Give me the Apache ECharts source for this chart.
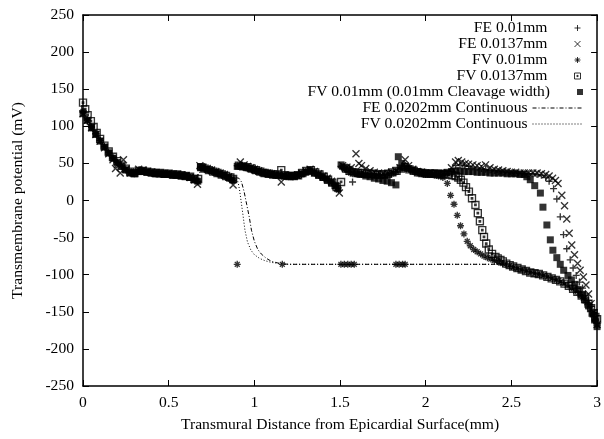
<!DOCTYPE html>
<html><head><meta charset="utf-8">
<script src="https://cdn.jsdelivr.net/npm/echarts@6/dist/echarts.min.js"></script>
<style>html,body{margin:0;padding:0;background:#fff}#c{width:604px;height:439px}</style>
</head><body><div id="c"></div>
<script>
// ---- data: [distance (mm), potential (mV)] ----
const seriesNames = ['FE 0.01mm', 'FE 0.0137mm', 'FV 0.01mm', 'FV 0.0137mm',
  'FV 0.01mm (0.01mm Cleavage width)', 'FE 0.0202mm Continuous', 'FV 0.0202mm Continuous'];

const fe01 = [[0,119],[0.025,109],[0.05,99],[0.075,90],[0.1,81],[0.125,72],[0.15,64],[0.175,57],[0.2,51],[0.225,46],[0.25,41],[0.275,37],[0.3,37],[0.325,41],[0.35,40],[0.375,38],[0.4,37],[0.425,37],[0.45,36],[0.475,36],[0.5,35],[0.525,35],[0.55,34],[0.575,34],[0.6,33],[0.625,31],[0.65,28],[0.67,25],[0.685,45],[0.7,44],[0.725,42],[0.75,40],[0.775,38],[0.8,36],[0.825,34],[0.85,31],[0.875,27],[0.9,47],[0.925,47],[0.95,45],[0.975,43],[1,41],[1.025,40],[1.05,38],[1.075,36],[1.1,35],[1.125,34],[1.15,34],[1.175,33],[1.2,33],[1.225,33],[1.25,34],[1.275,36],[1.3,39],[1.325,41],[1.35,38],[1.375,35],[1.4,32],[1.425,29],[1.45,26],[1.475,21],[1.49,17],[1.505,46],[1.525,43],[1.55,39],[1.573,25],[1.6,36],[1.625,36],[1.65,36],[1.675,35],[1.7,35],[1.725,35],[1.75,34],[1.775,35],[1.8,37],[1.825,39],[1.85,43],[1.875,46],[1.9,43],[1.925,40],[1.95,38],[1.975,37],[2,36],[2.025,36],[2.05,36],[2.075,35],[2.1,35],[2.125,36],[2.15,40],[2.175,47],[2.2,48],[2.225,47],[2.25,46],[2.275,45],[2.3,44],[2.325,43],[2.35,42],[2.375,41],[2.4,40],[2.425,39],[2.45,38],[2.475,38],[2.5,37],[2.525,37],[2.55,36],[2.575,36],[2.6,36],[2.625,36],[2.65,35],[2.675,34],[2.7,31],[2.72,26],[2.746,16],[2.765,2],[2.785,-22],[2.804,-46],[2.823,-65],[2.843,-80],[2.86,-91],[2.878,-101],[2.897,-110],[2.915,-118],[2.932,-126],[2.95,-135],[2.965,-143],[2.98,-153],[2.99,-160],[3,-166]];

const fe137 = [[0,117],[0.025,108],[0.05,98],[0.075,89],[0.1,80],[0.125,71],[0.15,63],[0.175,55],[0.19,43],[0.2,48],[0.217,37],[0.236,55],[0.25,42],[0.275,37],[0.3,38],[0.325,42],[0.35,41],[0.375,39],[0.4,38],[0.425,37],[0.45,36],[0.475,36],[0.5,36],[0.525,35],[0.55,35],[0.575,34],[0.6,33],[0.625,31],[0.65,28],[0.668,22],[0.682,47],[0.7,45],[0.725,43],[0.75,41],[0.775,39],[0.8,37],[0.825,35],[0.85,32],[0.876,21],[0.918,52],[0.94,48],[0.96,46],[0.98,44],[1,42],[1.025,40],[1.05,38],[1.075,37],[1.1,36],[1.125,35],[1.157,25],[1.175,34],[1.2,33],[1.225,33],[1.25,34],[1.275,37],[1.3,40],[1.325,42],[1.35,39],[1.375,36],[1.4,33],[1.425,30],[1.45,26],[1.475,20],[1.496,10],[1.515,47],[1.54,45],[1.565,44],[1.593,63],[1.61,50],[1.625,47],[1.65,43],[1.675,40],[1.7,38],[1.725,37],[1.75,36],[1.775,36],[1.8,38],[1.825,40],[1.85,44],[1.88,55],[1.9,47],[1.925,42],[1.95,39],[1.975,38],[2,37],[2.025,37],[2.05,36],[2.075,36],[2.1,36],[2.125,37],[2.15,44],[2.174,52],[2.19,54],[2.21,52],[2.23,50],[2.25,49],[2.275,48],[2.3,47],[2.325,46],[2.349,48],[2.375,44],[2.4,42],[2.425,41],[2.45,40],[2.475,39],[2.5,38],[2.525,38],[2.55,37],[2.575,37],[2.6,37],[2.625,37],[2.65,37],[2.675,36],[2.7,35],[2.72,33],[2.74,30],[2.757,27],[2.772,23],[2.794,7],[2.81,-7],[2.823,-25],[2.837,-44],[2.852,-60],[2.868,-73],[2.886,-85],[2.901,-94],[2.92,-103],[2.935,-114],[2.95,-126],[2.965,-139],[2.98,-151],[2.99,-159],[3,-167]];

const fv01 = [[0,120],[0.025,108],[0.05,99],[0.075,90],[0.1,81],[0.125,73],[0.15,65],[0.175,58],[0.2,52],[0.225,47],[0.25,42],[0.275,38],[0.3,36],[0.325,39],[0.35,39],[0.375,38],[0.4,37],[0.425,36],[0.45,36],[0.475,35],[0.5,35],[0.525,34],[0.55,34],[0.575,33],[0.6,33],[0.625,31],[0.65,28],[0.67,26],[0.685,44],[0.7,43],[0.725,41],[0.75,39],[0.775,37],[0.8,35],[0.825,33],[0.85,30],[0.875,27],[0.905,46],[0.925,46],[0.95,44],[0.975,43],[1,41],[1.025,39],[1.05,37],[1.075,36],[1.1,35],[1.125,34],[1.15,33],[1.175,33],[1.2,32],[1.225,32],[1.25,33],[1.275,35],[1.3,38],[1.325,40],[1.35,37],[1.375,34],[1.4,31],[1.425,28],[1.45,24],[1.475,19],[1.49,14],[1.51,45],[1.525,42],[1.55,38],[1.575,36],[1.6,35],[1.625,35],[1.65,35],[1.675,34],[1.7,34],[1.725,34],[1.75,33],[1.775,34],[1.8,36],[1.825,38],[1.85,42],[1.875,44],[1.9,42],[1.925,39],[1.95,37],[1.975,36],[2,35],[2.025,35],[2.05,34],[2.075,33],[2.1,31],[2.126,23],[2.145,7],[2.165,-5],[2.184,-20],[2.203,-34],[2.223,-45],[2.242,-55],[2.26,-61],[2.28,-66],[2.3,-69],[2.32,-72],[2.34,-75],[2.36,-77],[2.38,-79],[2.4,-81],[2.425,-83],[2.45,-85],[2.475,-87],[2.5,-89],[2.525,-91],[2.55,-93],[2.575,-94],[2.6,-96],[2.625,-97],[2.65,-99],[2.675,-100],[2.7,-102],[2.725,-104],[2.75,-106],[2.775,-108],[2.8,-111],[2.825,-114],[2.85,-118],[2.875,-122],[2.9,-127],[2.92,-132],[2.94,-138],[2.96,-146],[2.975,-153],[2.99,-162],[3,-168],
  [0.9,-86],[1.163,-86],[1.505,-86],[1.525,-86],[1.545,-86],[1.565,-86],[1.583,-86],[1.826,-86],[1.845,-86],[1.865,-86],[1.88,-86]];

const fv137 = [[0,132],[0.013,123],[0.027,115],[0.046,107],[0.062,99],[0.08,91],[0.1,83],[0.125,74],[0.15,66],[0.175,59],[0.2,53],[0.225,47],[0.25,43],[0.275,39],[0.3,37],[0.325,40],[0.35,40],[0.375,39],[0.4,38],[0.425,37],[0.45,37],[0.475,36],[0.5,36],[0.525,35],[0.55,35],[0.575,34],[0.6,33],[0.625,32],[0.65,29],[0.672,29],[0.69,45],[0.71,43],[0.735,41],[0.76,39],[0.785,37],[0.81,35],[0.835,33],[0.86,31],[0.876,29],[0.91,47],[0.935,46],[0.96,45],[0.985,43],[1.01,41],[1.035,39],[1.06,37],[1.085,36],[1.11,35],[1.135,35],[1.157,41],[1.18,34],[1.205,33],[1.23,33],[1.255,34],[1.28,37],[1.305,40],[1.33,41],[1.355,38],[1.38,35],[1.405,32],[1.43,28],[1.455,24],[1.48,18],[1.506,25],[1.535,43],[1.555,40],[1.58,38],[1.605,37],[1.63,37],[1.655,36],[1.68,36],[1.705,35],[1.73,35],[1.755,35],[1.78,36],[1.805,38],[1.83,40],[1.855,43],[1.88,45],[1.905,42],[1.93,40],[1.955,38],[1.98,37],[2.005,36],[2.03,36],[2.055,36],[2.08,35],[2.105,35],[2.13,35],[2.155,34],[2.175,33],[2.19,31],[2.205,28],[2.22,24],[2.235,18],[2.252,12],[2.27,3],[2.29,-6],[2.304,-17],[2.316,-28],[2.33,-40],[2.34,-49],[2.353,-58],[2.368,-66],[2.387,-72],[2.407,-76],[2.42,-78],[2.436,-80],[2.45,-82],[2.47,-85],[2.49,-87],[2.51,-89],[2.535,-91],[2.56,-93],[2.585,-95],[2.61,-97],[2.635,-98],[2.66,-99],[2.685,-101],[2.71,-103],[2.735,-105],[2.76,-107],[2.785,-109],[2.81,-112],[2.835,-115],[2.86,-119],[2.885,-123],[2.91,-128],[2.93,-133],[2.95,-139],[2.965,-145],[2.98,-152],[2.99,-157],[3,-160]];

const fvCleave = [[0,117],[0.025,108],[0.05,98],[0.075,89],[0.1,80],[0.125,72],[0.15,64],[0.175,57],[0.2,51],[0.225,46],[0.25,41],[0.275,37],[0.3,36],[0.325,39],[0.35,39],[0.375,38],[0.4,37],[0.425,36],[0.45,36],[0.475,35],[0.5,35],[0.525,34],[0.55,34],[0.575,33],[0.6,33],[0.625,31],[0.65,28],[0.67,26],[0.685,45],[0.7,44],[0.725,42],[0.75,40],[0.775,38],[0.8,36],[0.825,34],[0.85,31],[0.875,28],[0.9,46],[0.925,46],[0.95,45],[0.975,43],[1,41],[1.025,39],[1.05,37],[1.075,36],[1.1,35],[1.125,34],[1.15,34],[1.175,33],[1.2,33],[1.225,33],[1.25,34],[1.275,36],[1.3,38],[1.325,40],[1.35,37],[1.375,34],[1.4,31],[1.425,28],[1.45,24],[1.47,20],[1.486,16],[1.506,48],[1.525,45],[1.55,42],[1.575,39],[1.6,37],[1.625,35],[1.65,33],[1.675,32],[1.7,30],[1.725,29],[1.75,27],[1.775,26],[1.8,24],[1.826,21],[1.84,59],[1.86,50],[1.88,46],[1.9,43],[1.925,41],[1.95,39],[1.975,38],[2,37],[2.025,37],[2.05,37],[2.075,37],[2.1,37],[2.125,38],[2.15,39],[2.175,40],[2.2,40],[2.225,39],[2.25,39],[2.275,39],[2.3,38],[2.325,38],[2.35,38],[2.375,37],[2.4,37],[2.425,37],[2.45,37],[2.475,36],[2.5,36],[2.525,36],[2.55,35],[2.575,35],[2.59,32],[2.61,28],[2.636,20],[2.669,10],[2.684,-9],[2.707,-33],[2.727,-53],[2.742,-67],[2.765,-77],[2.785,-86],[2.805,-94],[2.83,-101],[2.85,-107],[2.87,-113],[2.89,-120],[2.91,-127],[2.93,-134],[2.95,-142],[2.97,-152],[2.985,-161],[3,-170]];

const feCont = [[0,119],[0.05,99],[0.1,81],[0.15,64],[0.2,51],[0.25,41],[0.3,37],[0.35,39],[0.4,37],[0.5,35],[0.6,33],[0.65,30],[0.7,42],[0.75,39],[0.8,36],[0.86,32],[0.91,30],[0.925,25],[0.94,12],[0.955,-5],[0.97,-22],[0.983,-40],[1,-55],[1.02,-66],[1.04,-72],[1.07,-78],[1.1,-82],[1.15,-85],[1.2,-86],[1.5,-86],[2,-86],[2.3,-86],[2.45,-86],[2.5,-89],[2.6,-96],[2.7,-102],[2.8,-111],[2.9,-127],[2.95,-141],[3,-166]];

const fvCont = [[0,119],[0.05,99],[0.1,81],[0.15,64],[0.2,51],[0.25,41],[0.3,37],[0.35,39],[0.4,37],[0.5,35],[0.6,33],[0.65,30],[0.7,42],[0.75,39],[0.8,36],[0.86,32],[0.89,30],[0.905,25],[0.915,12],[0.925,-5],[0.935,-22],[0.945,-40],[0.96,-56],[0.98,-67],[1,-73],[1.03,-78],[1.06,-81],[1.1,-83.5],[1.15,-85],[1.2,-86],[1.5,-86],[2,-86],[2.45,-86],[2.5,-89],[2.6,-96],[2.7,-102],[2.8,-111],[2.9,-127],[2.95,-141],[3,-166]];

const xRange = [0, 3], xStep = 0.5;
const yRange = [-250, 250], yStep = 50;
const xTitle = 'Transmural Distance from Epicardial Surface(mm)';
const yTitle = 'Transmembrane potential (mV)';

// ---- styling ----
const FONT = 'Liberation Serif';
const FS = 15.6;
const sym = {
  plus: 'path://M0,5L10,5M5,0L5,10',
  cross: 'path://M0,0L10,10M10,0L0,10',
  star: 'path://M0,5L10,5M5,0L5,10M1.5,1.5L8.5,8.5M8.5,1.5L1.5,8.5',
  boxdot: 'path://M0,0L10,0L10,10L0,10ZM4,4L6,4L6,6L4,6Z',
  box: 'path://M0,0L10,0L10,10L0,10Z'
};
function scatter(name, data, symbol, size, filled) {
  return {
    type: 'scatter', name, data, symbol, symbolSize: size,
    itemStyle: filled ? { color: '#000' } : { color: 'none', borderColor: '#000', borderWidth: 1.35 },
    emphasis: { disabled: true }, silent: true
  };
}
function line(name, data, dash) {
  return {
    type: 'line', name, data, symbol: 'none', smooth: false,
    lineStyle: { color: '#000', width: 1, type: dash },
    itemStyle: { color: '#000' },
    emphasis: { disabled: true }, silent: true
  };
}
const series = [
  scatter(seriesNames[0], fe01, sym.plus, 7, false),
  scatter(seriesNames[1], fe137, sym.cross, 7, false),
  scatter(seriesNames[2], fv01, sym.star, 7, false),
  scatter(seriesNames[3], fv137, sym.boxdot, 7, false),
  scatter(seriesNames[4], fvCleave, sym.box, 7, true),
  line(seriesNames[5], feCont, [4, 2, 1, 2]),
  line(seriesNames[6], fvCont, [1, 2])
];
const legendCenters = [28, 44, 60, 76, 92, 108, 124];
const legends = seriesNames.map((n, i) => ({
  data: [n], orient: 'vertical', right: 21, top: legendCenters[i] - 8, padding: 0,
  align: 'right', itemWidth: 50, itemHeight: i < 5 ? 6 : 14, itemGap: 0,
  selectedMode: false,
  textStyle: { fontFamily: FONT, fontSize: FS, color: '#000', lineHeight: 16 },
  itemStyle: i < 5 ? { borderWidth: 1 } : { color: 'rgba(0,0,0,0)', borderWidth: 0, opacity: 0 },
  lineStyle: { width: 1 }
}));

const axisCommon = {
  type: 'value', splitLine: { show: false },
  axisLine: { show: true, onZero: false, lineStyle: { color: '#000', width: 1.5 } },
  axisTick: { show: true, inside: true, length: 6, lineStyle: { color: '#000', width: 1 } }
};
const chart = echarts.init(document.getElementById('c'), null, { renderer: 'canvas' });
chart.setOption({
  animation: false,
  backgroundColor: '#fff',
  grid: { left: 83, right: 5, top: 15, bottom: 53, containLabel: false },
  legend: legends,
  xAxis: [
    Object.assign({}, axisCommon, {
      position: 'bottom', min: xRange[0], max: xRange[1], interval: xStep,
      axisLabel: { fontFamily: FONT, fontSize: FS, color: '#000', margin: 9 },
      name: xTitle, nameLocation: 'middle', nameGap: 31,
      nameTextStyle: { fontFamily: FONT, fontSize: FS, color: '#000' }
    }),
    Object.assign({}, axisCommon, {
      position: 'top', min: xRange[0], max: xRange[1], interval: xStep,
      axisLabel: { show: false }
    })
  ],
  yAxis: [
    Object.assign({}, axisCommon, {
      position: 'left', min: yRange[0], max: yRange[1], interval: yStep,
      axisLabel: { fontFamily: FONT, fontSize: FS, color: '#000', margin: 9 },
      name: yTitle, nameLocation: 'middle', nameGap: 57,
      nameTextStyle: { fontFamily: FONT, fontSize: FS, color: '#000' }
    }),
    Object.assign({}, axisCommon, {
      position: 'right', min: yRange[0], max: yRange[1], interval: yStep,
      axisLabel: { show: false }
    })
  ],
  series: series
});
</script></body></html>
